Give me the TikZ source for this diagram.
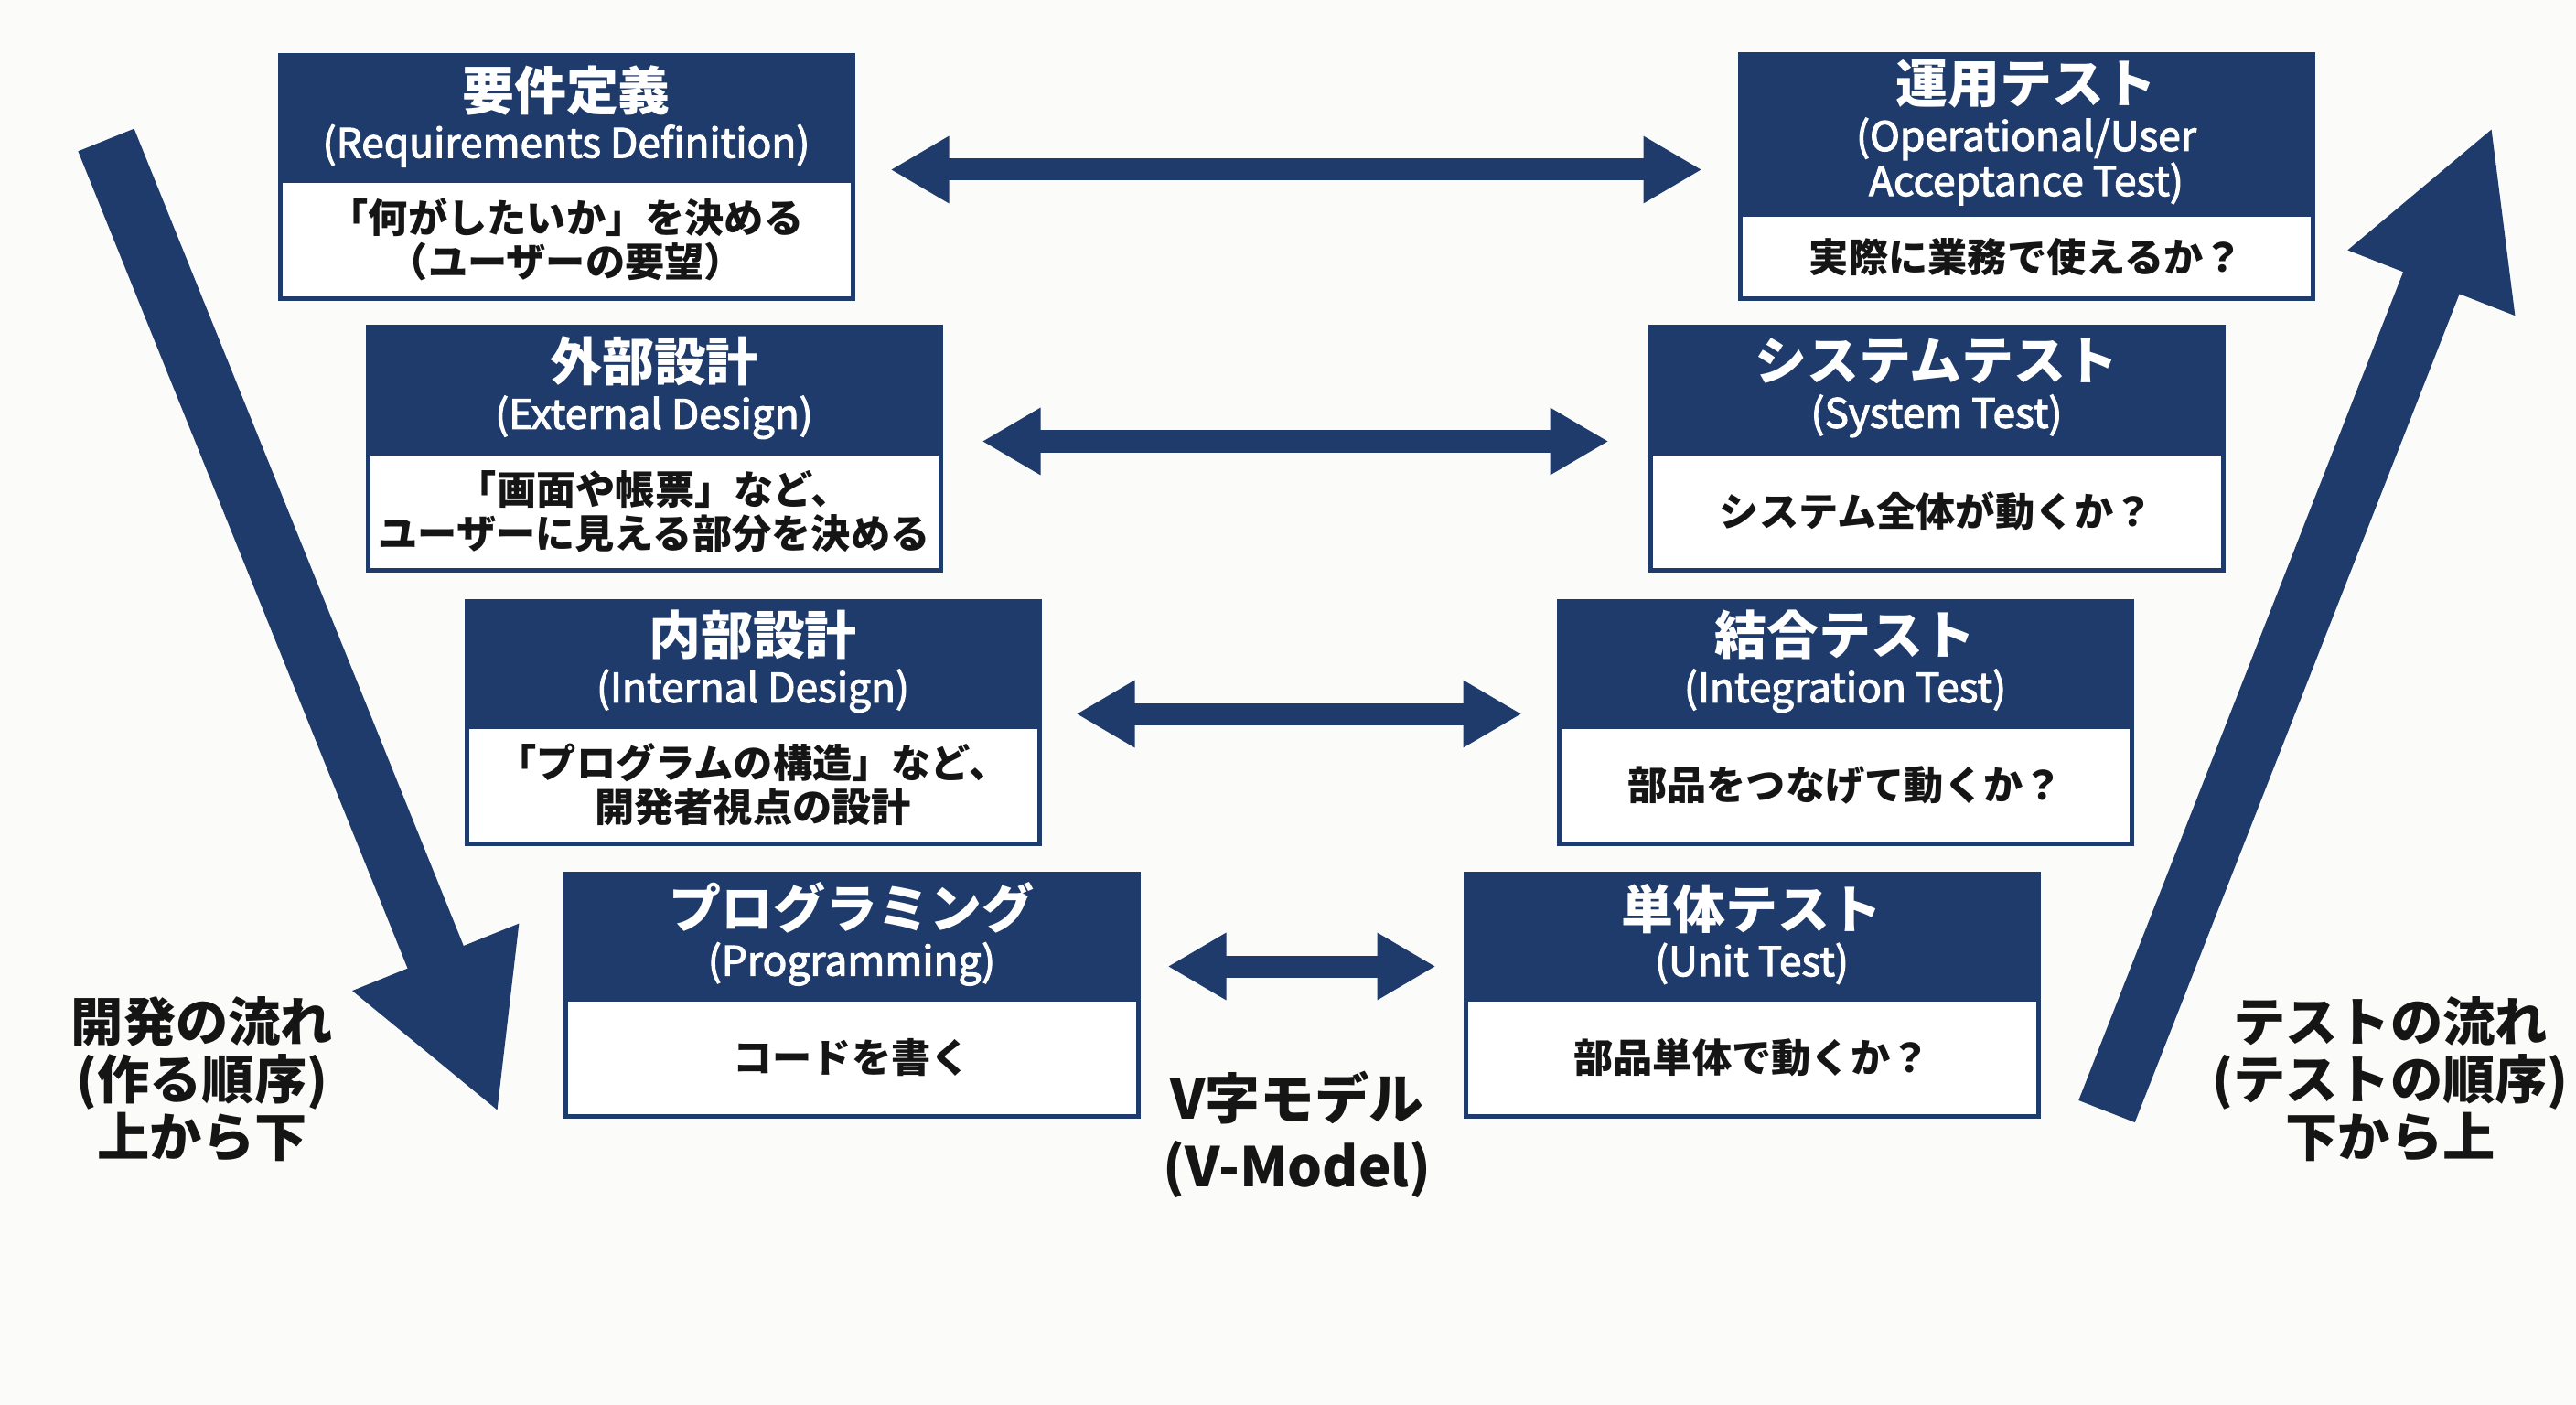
\documentclass[tikz,border=0pt]{standalone}
\usepackage{fontspec}
\setmainfont{Noto Sans CJK JP}
\newfontface\engface{Noto Sans CJK JP}[FakeBold=2.5]
\usepackage{tikz}
\usetikzlibrary{positioning,calc,arrows.meta}
\definecolor{Navy}{HTML}{1F3B6B}
\definecolor{Paper}{HTML}{FBFBFA}
\definecolor{Ink}{HTML}{151515}
\newcommand{\titlefont}{\fontsize{16.2pt}{19pt}\selectfont\rmfamily\bfseries}
\newcommand{\subfont}{\fontsize{12.6pt}{14pt}\selectfont\engface}
\newcommand{\bodyfont}{\fontsize{12.3pt}{13.7pt}\selectfont\bfseries}
\newcommand{\labelfont}{\fontsize{16.3pt}{17.9pt}\selectfont\bfseries}

\begin{document}
\begin{tikzpicture}[
			node distance=0pt,
			phasehead/.style={draw=Navy, fill=Navy, line width=0.05cm, text=white,
				minimum width=6.26cm, minimum height=1.32cm, align=center,
				inner sep=0pt, anchor=north west, font=\subfont},
			phasebody/.style={draw=Navy, fill=white, line width=0.05cm, text=Ink,
				minimum width=6.26cm, minimum height=1.28cm, align=center,
				inner sep=0pt, font=\bodyfont},
			pairarrow/.style={Navy, line width=0.24cm,
				{Triangle[width=0.69cm,length=0.64cm]}-{Triangle[width=0.69cm,length=0.64cm]}},
			flowarrow/.style={Navy, line width=0.66cm, -{Triangle[width=1.82cm,length=1.84cm]}},
			flowlabel/.style={align=center, text=Ink, font=\labelfont}
			]
			
			\fill[Paper] (0,0) rectangle (28.16,-15.36);
			\useasboundingbox (0,0) rectangle (28.16,-15.36);
			
			% Requirements Definition
			\node[phasehead] (req) at (3.035,-0.585)
			{\titlefont 要件定義\\[0.8pt] (Requirements Definition)};
			\node[phasebody, below=of req] (reqbody)
			{「何がしたいか」を決める\\（ユーザーの要望）};
			
			% External Design
			\node[phasehead] (ext) at (3.995,-3.555)
			{\titlefont 外部設計\\[0.8pt] (External Design)};
			\node[phasebody, below=of ext] (extbody)
			{「画面や帳票」など、\\ユーザーに見える部分を決める};
			
			% Internal Design
			\node[phasehead] (int) at (5.075,-6.545)
			{\titlefont 内部設計\\[0.8pt] (Internal Design)};
			\node[phasebody, below=of int] (intbody)
			{「プログラムの構造」など、\\開発者視点の設計};
			
			% Programming
			\node[phasehead] (prog) at (6.155,-9.525)
			{\titlefont プログラミング\\[0.8pt] (Programming)};
			\node[phasebody, below=of prog] (progbody)
			{コードを書く};
			
			% Operational / User Acceptance Test
			\node[phasehead, minimum height=1.70cm] (uat) at (18.995,-0.575)
			{\titlefont 運用テスト\\[0.8pt] (Operational/User\\Acceptance Test)};
			\node[phasebody, minimum height=0.92cm, below=of uat] (uatbody)
			{実際に業務で使えるか？};
			
			% System Test
			\node[phasehead] (sys) at (18.015,-3.555)
			{\titlefont システムテスト\\[0.8pt] (System Test)};
			\node[phasebody, below=of sys] (sysbody)
			{システム全体が動くか？};
			
			% Integration Test
			\node[phasehead] (integ) at (17.015,-6.545)
			{\titlefont 結合テスト\\[0.8pt] (Integration Test)};
			\node[phasebody, below=of integ] (integbody)
			{部品をつなげて動くか？};
			
			% Unit Test
			\node[phasehead] (unit) at (15.995,-9.525)
			{\titlefont 単体テスト\\[0.8pt] (Unit Test)};
			\node[phasebody, below=of unit] (unitbody)
			{部品単体で動くか？};
			
			% correspondence arrows
			\foreach \l/\r/\dy/\gap in {req/uat/0.10/0.39, ext/sys/0.10/0.43,
				int/integ/0.11/0.38, prog/unit/0.33/0.30}
			\draw[pairarrow] ($(\l.south east)+(\gap,\dy)$)
			-- ($(\l.south east -| \r.west)+(-\gap,\dy)$);
			
			% flow arrows
			\coordinate (devstart) at (1.16,-1.53);
			\coordinate (devend) at (5.45,-12.17);
			\coordinate (teststart) at (23.03,-12.15);
			\coordinate (testend) at (27.25,-1.38);
			\draw[flowarrow] (devstart) -- (devend);
			\draw[flowarrow] (teststart) -- (testend);
			
			% labels
			\node[flowlabel] (devlabel) at (2.21,-11.80)
			{開発の流れ\\(作る順序)\\上から下};
			\node[flowlabel] (testlabel) at (26.13,-11.80)
			{テストの流れ\\(テストの順序)\\下から上};
			\node[flowlabel, font=\fontsize{17pt}{21pt}\selectfont\bfseries] (vmodel) at (14.18,-12.40)
			{V字モデル\\(V-Model)};
			
		\end{tikzpicture}
\end{document}
